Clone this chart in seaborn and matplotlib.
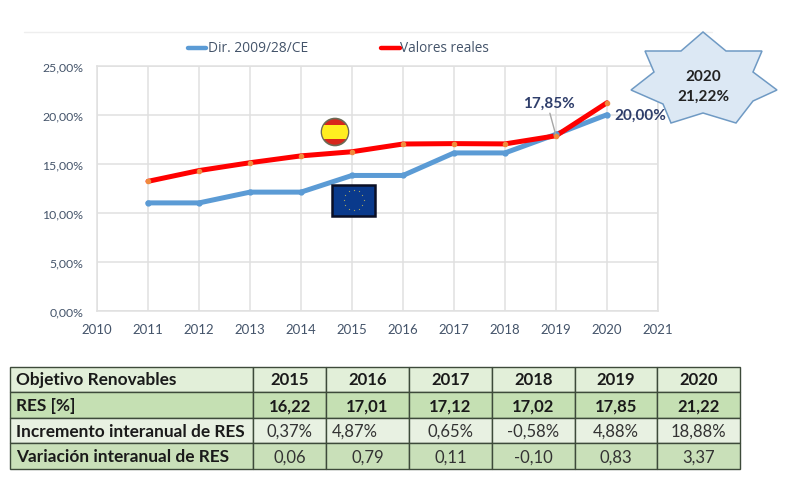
import pandas as pd
import matplotlib
matplotlib.use("Agg")
import matplotlib.pyplot as plt
import seaborn as sns
from matplotlib.patches import Polygon, Rectangle, Circle

# Chart data
years = [2011, 2012, 2013, 2014, 2015, 2016, 2017, 2018, 2019, 2020]
objetivo = [11.0, 11.0, 12.1, 12.1, 13.8, 13.8, 16.1, 16.1, 18.0, 20.0]
reales = [13.2, 14.3, 15.1, 15.8, 16.22, 17.01, 17.05, 17.02, 17.85, 21.22]
x_ticks = list(range(2010, 2022))
y_ticks = [0, 5, 10, 15, 20, 25]

# Table data
table_cols = ["Objetivo Renovables", "2015", "2016", "2017", "2018", "2019", "2020"]
row_res = ["RES [%]", "16,22", "17,01", "17,12", "17,02", "17,85", "21,22"]
row_incremento = ["Incremento interanual de RES", "0,37%", "4,87%", "0,65%", "-0,58%", "4,88%", "18,88%"]
row_variacion = ["Variación interanual de RES", "0,06", "0,79", "0,11", "-0,10", "0,83", "3,37"]

W, H = 785, 489
NAVY = "#44546a"
DARK_NAVY = "#2f3e6b"

sns.set_theme(style="white")
plt.rcParams["font.family"] = ["Lato", "DejaVu Sans"]

fig = plt.figure(figsize=(W / 100, H / 100), dpi=100)

# Plot area, placed from pixel edges
ax = fig.add_axes([97 / W, (H - 311.7) / H, 561 / W, 245 / H])

df = pd.DataFrame({"year": years, "Dir. 2009/28/CE": objetivo, "Valores reales": reales})
long_df = df.melt("year", var_name="serie", value_name="valor")

sns.lineplot(data=long_df, x="year", y="valor", hue="serie",
             palette={"Dir. 2009/28/CE": "#5b9bd5", "Valores reales": "#ff0000"},
             linewidth=3.6, ax=ax, legend=False)
ax.plot(years, objetivo, "o", ms=3.5, color="#5b9bd5", zorder=3)
ax.plot(years, reales, "o", ms=3, color="#f08a3c", zorder=4)

ax.set_xlim(2010, 2021)
ax.set_ylim(0, 25)
ax.set_xticks(x_ticks)
ax.set_yticks(y_ticks)
ax.set_yticklabels([f"{v},00%" for v in y_ticks])
ax.set_xlabel("")
ax.set_ylabel("")
ax.grid(True, color="#e0e0e0", linewidth=1.1)
ax.set_axisbelow(True)
ax.tick_params(axis="x", length=0, labelsize=9.5, labelcolor=NAVY, pad=9)
ax.tick_params(axis="y", length=0, labelsize=8.8, labelcolor=NAVY, pad=10)
for side in ax.spines.values():
    side.set_color("#e0e0e0")
    side.set_linewidth(1.1)

# Data label with leader line
ax.annotate("17,85%", xy=(2019, 17.85), xytext=(2019.37, 21.2), ha="right", va="center",
            fontsize=11, fontweight="bold", color=DARK_NAVY,
            arrowprops=dict(arrowstyle="-", color="#a6a6a6", lw=1, shrinkA=0, shrinkB=0,
                            relpos=(0.5, 0)))

# Overlay in pixel coordinates for legend, star and flags
over = fig.add_axes([0, 0, 1, 1], facecolor="none")
over.set_xlim(0, W)
over.set_ylim(H, 0)
over.axis("off")

over.plot([24, 712], [33, 33], color="#eeeeee", lw=1)

# Legend
over.plot([188, 206], [49, 49], color="#5b9bd5", lw=3.2, solid_capstyle="round")
over.text(208, 48.5, "Dir. 2009/28/CE", family=["Open Sans", "DejaVu Sans"], fontsize=9.9,
          color=NAVY, va="center")
over.plot([381, 400], [49, 49], color="#ff0000", lw=3.2, solid_capstyle="round")
over.text(400, 48.5, "Valores reales", family=["Open Sans", "DejaVu Sans"], fontsize=9.8,
          color=NAVY, va="center")

# Star callout
star = [(703, 33), (726, 52), (762, 52), (753, 73), (777, 91), (753, 102), (736, 124),
        (703, 114), (671, 124), (663, 105), (631, 91), (654, 73), (645, 52), (681, 52)]
over.add_patch(Polygon(star, closed=True, facecolor="#dce8f4", edgecolor="#6f9ac4", lw=1.1, zorder=5))
over.text(703, 87, "2020\n21,22%", ha="center", va="center", fontsize=11, fontweight="bold",
          color="#222222", linespacing=1.55, zorder=6)

# 20,00% label sits on top of the star
over.annotate("20,00%", xy=(2020, 20), xycoords=ax.transData, xytext=(5, 0),
              textcoords="offset points", ha="left", va="center", fontsize=11,
              fontweight="bold", color=DARK_NAVY, zorder=7)

# Spain flag
over.add_patch(Circle((335, 133), 13.5, facecolor="#d8261c", edgecolor="#6b6b55", lw=1.2, zorder=5))
stripe = Rectangle((321, 126), 28, 14, facecolor="#ffee20", edgecolor="none", zorder=6)
over.add_patch(stripe)
stripe.set_clip_path(Circle((335, 133), 13, transform=over.transData))

# EU flag
over.add_patch(Rectangle((332, 186), 43, 30.5, facecolor="#0a3a8c", edgecolor="#0a0f25", lw=1.8, zorder=5))
eu_x = [353.5, 358.5, 362.2, 363.5, 362.2, 358.5, 353.5, 348.5, 344.8, 343.5, 344.8, 348.5]
eu_y = [191, 192.3, 196, 201, 206, 209.7, 211, 209.7, 206, 201, 196, 192.3]
over.scatter(eu_x, eu_y, s=0.8, color="#a8a560", linewidths=0, zorder=6)

# Table
tab_ax = fig.add_axes([9.5 / W, (H - 470) / H, 730.5 / W, 102.3 / H])
tab_ax.axis("off")
col_edges = [9.5, 253.5, 325.7, 409, 491.7, 575, 657, 740]
col_widths = [(b - a) / 730.5 for a, b in zip(col_edges[:-1], col_edges[1:])]
rows = [row_res, row_incremento, row_variacion]
table = tab_ax.table(cellText=rows, colLabels=table_cols, colWidths=col_widths,
                     bbox=[0, 0, 1, 1], cellLoc="center")
table.auto_set_font_size(False)
row_colors = ["#e2efd9", "#c5e0b3", "#e8f1e2", "#c9e0b9"]
for (r, c), cell in table.get_celld().items():
    cell.set_facecolor(row_colors[r])
    cell.set_edgecolor("#3d4a3a")
    cell.set_linewidth(1.0)
    txt = cell.get_text()
    txt.set_color("#1a1a1a")
    txt.set_fontsize(12)
    if c == 0:
        txt.set_ha("left")
        txt.set_fontsize(12.4)
        cell.PAD = 0.027
    if c == 0 or r < 2:
        txt.set_fontweight("bold")
    else:
        txt.set_color("#333333")
# 4,87% is left aligned in the original
table[(2, 2)].get_text().set_ha("left")
table[(2, 2)].PAD = 0.075

fig.savefig("out.png", dpi=100)
